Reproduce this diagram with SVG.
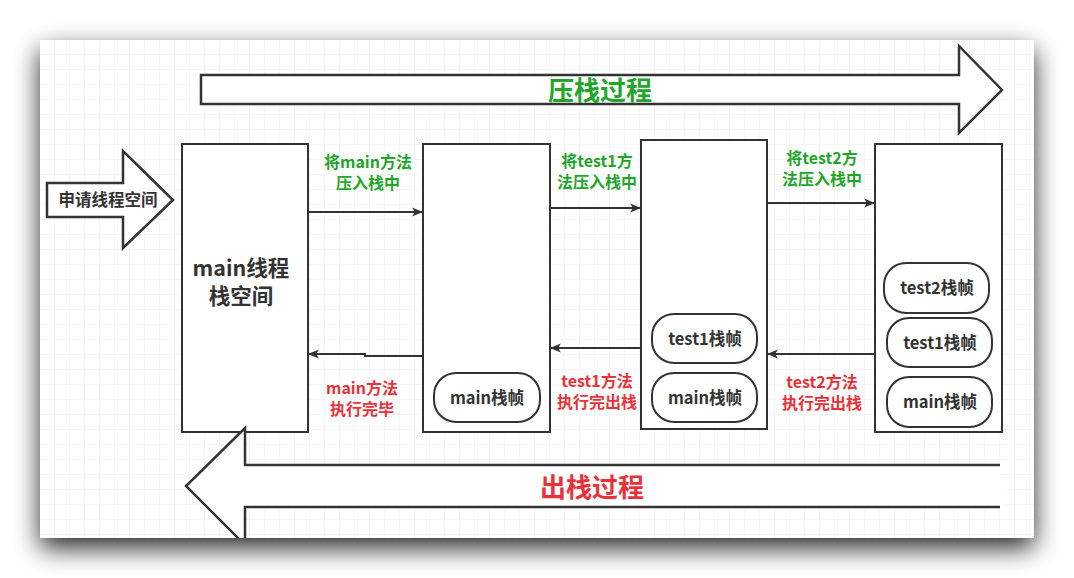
<svg xmlns="http://www.w3.org/2000/svg" width="1074" height="578" viewBox="0 0 1074 578">
<defs>
<pattern id="grid" width="15" height="15" patternUnits="userSpaceOnUse" x="40" y="40">
<path d="M15 0 V15 M0 15 H15" fill="none" stroke="#ececec" stroke-width="1"/>
</pattern>
<filter id="sh" x="-10%" y="-20%" width="120%" height="140%">
<feGaussianBlur in="SourceAlpha" stdDeviation="13"/>
<feOffset dx="0" dy="10" result="b"/>
<feComponentTransfer><feFuncA type="linear" slope="0.85"/></feComponentTransfer>
<feMerge><feMergeNode/><feMergeNode in="SourceGraphic"/></feMerge>
</filter>
<clipPath id="pc"><rect x="40" y="40" width="994" height="498"/></clipPath>
<marker id="ah" viewBox="0 0 10 10" refX="9" refY="5" markerWidth="11" markerHeight="11" markerUnits="userSpaceOnUse" orient="auto">
<path d="M0,1 L10,5 L0,9 L2.5,5 Z" fill="#333"/>
</marker>
<style>
.box{fill:#fff;stroke:#333;stroke-width:2}
.pill{fill:#fff;stroke:#333;stroke-width:2}
.big{fill:#fff;stroke:#333;stroke-width:2.5;stroke-linejoin:miter}
.t{font-family:"Noto Sans CJK SC","Noto Sans",sans-serif;font-weight:bold;text-anchor:middle}
.pt{font-size:16.5px;fill:#333}
.g{font-size:16px;fill:#22a52a}
.r{font-size:16px;fill:#e8323a}
.conn{fill:none;stroke:#333;stroke-width:2;marker-end:url(#ah)}
</style>
</defs>
<rect width="1074" height="578" fill="#ffffff"/>
<rect x="40" y="40" width="994" height="498" fill="#fff" filter="url(#sh)"/>
<rect x="40" y="40" width="994" height="498" fill="url(#grid)"/>
<g clip-path="url(#pc)">
<g id="push-arrow">
<path class="big" d="M201,75 L959,75 L959,46 L1002,90 L959,133 L959,104 L201,104 Z"/>
<text class="t" x="600" y="100" font-size="26" fill="#22a52a">压栈过程</text>
</g>
<g id="request-arrow">
<path class="big" d="M47,183 L123,183 L123,151 L173,200 L123,248 L123,217 L47,217 Z"/>
<text class="t pt" x="108" y="206">申请线程空间</text>
</g>
<g id="main-stack">
<rect class="box" x="182" y="144" width="126" height="288"/>
<text class="t" font-size="21.5" fill="#333"><tspan x="241" y="276">main线程</tspan><tspan x="241" y="304">栈空间</tspan></text>
</g>
<g id="pop-arrow">
<path class="big" d="M1000,465 L245,465 L245,428 L186,486 L245,545 L245,507 L1000,507" fill="#fff"/>
<rect x="995" y="479" width="10" height="26" fill="#fff"/>
<text class="t" x="592" y="497" font-size="26" fill="#e8323a">出栈过程</text>
</g>
<g id="stack1">
<rect class="box" x="423" y="144" width="127" height="288"/>
<rect class="pill" x="434" y="373" width="106" height="49" rx="22"/>
<text class="t pt" x="487" y="404">main栈帧</text>
</g>
<g id="stack2">
<rect class="box" x="641" y="140" width="126" height="289"/>
<rect class="pill" x="652" y="314" width="105" height="49" rx="22"/>
<text class="t pt" x="705" y="345">test1栈帧</text>
<rect class="pill" x="652" y="373" width="105" height="49" rx="22"/>
<text class="t pt" x="705" y="404">main栈帧</text>
</g>
<g id="stack3">
<rect class="box" x="875" y="144" width="127" height="288"/>
<rect class="pill" x="884" y="263" width="105" height="50" rx="22"/>
<text class="t pt" x="937" y="294">test2栈帧</text>
<rect class="pill" x="887" y="318" width="105" height="49" rx="22"/>
<text class="t pt" x="940" y="349">test1栈帧</text>
<rect class="pill" x="887" y="377" width="105" height="50" rx="22"/>
<text class="t pt" x="940" y="408">main栈帧</text>
</g>
<g id="connectors">
<path class="conn" d="M309,212 L422,212"/>
<path class="conn" d="M551,208 L640,208"/>
<path class="conn" d="M768,203 L874,203"/>
<path class="conn" d="M422,356 L365,356 L365,354 L309,354"/>
<path class="conn" d="M640,348 L551,348"/>
<path class="conn" d="M874,354 L768,354"/>
</g>
<g id="labels">
<text class="t g"><tspan x="368" y="168">将main方法</tspan><tspan x="368" y="189">压入栈中</tspan></text>
<text class="t g"><tspan x="597" y="167">将test1方</tspan><tspan x="597" y="188">法压入栈中</tspan></text>
<text class="t g"><tspan x="822" y="164">将test2方</tspan><tspan x="822" y="185">法压入栈中</tspan></text>
<text class="t r"><tspan x="362" y="394">main方法</tspan><tspan x="362" y="415">执行完毕</tspan></text>
<text class="t r"><tspan x="597" y="387">test1方法</tspan><tspan x="597" y="408">执行完出栈</tspan></text>
<text class="t r"><tspan x="822" y="388">test2方法</tspan><tspan x="822" y="409">执行完出栈</tspan></text>
</g>
</g>
</svg>
